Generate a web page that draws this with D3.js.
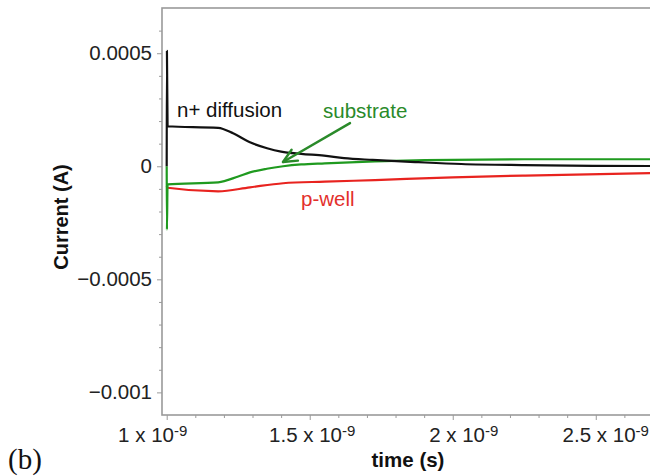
<!DOCTYPE html>
<html>
<head>
<meta charset="utf-8">
<script src="https://cdn.jsdelivr.net/npm/d3@7"></script>
<style>
  html, body { margin: 0; padding: 0; background: #fff; overflow: hidden; }
  svg { display: block; }
</style>
</head>
<body>
<svg id="chart" width="650" height="476"></svg>
<script>
// Transient currents after the strike; time in ns, current in A.
const nDiffusionTime    = [1.000, 1.0008, 1.003, 1.18, 1.232, 1.291, 1.351, 1.40, 1.47, 1.55, 1.62, 1.72, 1.88, 2.03, 2.25, 2.49, 2.72];
const nDiffusionCurrent = [0, 0.00051, 0.000177, 0.00017, 0.000146, 0.000106, 0.00008, 0.000065, 0.000055, 0.000047, 0.000036, 0.000028, 0.000018, 0.00001, 0.000005, 0.000002, 0.000001];

const substrateTime    = [1.000, 1.0008, 1.003, 1.18, 1.25, 1.291, 1.35, 1.407, 1.47, 1.553, 1.728, 1.903, 2.253, 2.72];
const substrateCurrent = [0, -0.00028, -0.00008, -0.000071, -0.000045, -0.000027, -0.000011, 0.0, 0.000008, 0.000013, 0.000022, 0.000027, 0.000031, 0.000031];

const pWellTime    = [1.000, 1.003, 1.18, 1.291, 1.407, 1.553, 1.728, 2.0, 2.253, 2.72];
const pWellCurrent = [-0.000088, -0.000095, -0.000111, -0.000093, -0.000075, -0.000068, -0.000061, -0.000049, -0.000041, -0.00003];

// Axis ticks
const xTickValues  = d3.range(10, 28).map(d => d / 10);          // every 0.1 ns
const xLabelValues = [1, 1.5, 2, 2.5];
const xLabelMantissa = ["1", "1.5", "2", "2.5"];
const xLabelExponent = "-9";
const yTickValues  = d3.range(-10, 7).map(d => d / 10000);      // every 0.0001 A
const yLabelValues = [-0.001, -0.0005, 0, 0.0005];
const yLabelTexts  = ["\u22120.001", "\u22120.0005", "0", "0.0005"];

// Curve labels and the arrow, in data coordinates
const curveLabelTexts   = ["n+ diffusion", "substrate", "p-well"];
const curveLabelTime    = [1.036, 1.5464, 1.4695];
const curveLabelCurrent = [0.000218, 0.0002135, -0.000176];
const arrowFrom = [1.6408, 0.000191];
const arrowTo   = [1.4066, 0.0000189];

// ---- drawing ----
const svg = d3.select("#chart");
const axisColor = "#9a9a9a";
const font = "'Liberation Sans', Arial, Helvetica, sans-serif";

const x = d3.scaleLinear().domain([0.98357, 2.72]).range([162, 658.7]);
const y = d3.scaleLinear().domain([-0.0011, 0.0007]).range([415, 8]);

svg.append("rect").attr("width", 650).attr("height", 476).attr("fill", "#fff");

// frame
svg.append("rect")
  .attr("x", x.range()[0]).attr("y", y.range()[1])
  .attr("width", x.range()[1] - x.range()[0])
  .attr("height", y.range()[0] - y.range()[1])
  .attr("fill", "none").attr("stroke", axisColor).attr("stroke-width", 1.6);

// y axis
const isYLabel = v => yLabelValues.some(l => Math.abs(l - v) < 1e-9);
const yAxis = d3.axisLeft(y)
  .tickValues(yTickValues)
  .tickSize(3).tickSizeOuter(0).tickPadding(7)
  .tickFormat(v => {
    const i = yLabelValues.findIndex(l => Math.abs(l - v) < 1e-9);
    return i >= 0 ? yLabelTexts[i] : "";
  });
const gy = svg.append("g").attr("transform", `translate(${x.range()[0]},0)`).call(yAxis);
gy.select(".domain").remove();
gy.selectAll(".tick line").attr("stroke", axisColor).attr("stroke-width", 1)
  .attr("x2", d => isYLabel(d) ? -5 : -3);
gy.selectAll(".tick text")
  .attr("font-family", font).attr("font-size", 20.5).attr("fill", "#222");

// x axis
const isXLabel = v => xLabelValues.some(l => Math.abs(l - v) < 1e-9);
const xAxis = d3.axisBottom(x)
  .tickValues(xTickValues)
  .tickSize(3).tickSizeOuter(0)
  .tickFormat("");
const gx = svg.append("g").attr("transform", `translate(0,${y.range()[0]})`).call(xAxis);
gx.select(".domain").remove();
gx.selectAll(".tick line").attr("stroke", axisColor).attr("stroke-width", 1)
  .attr("y2", d => isXLabel(d) ? 5 : 3);

// scientific tick labels: mantissa x 10 with a raised exponent
const labelNudge = { "1": -14, "1.5": 2.5, "2": 11, "2.5": 10 };
const gxl = svg.append("g").attr("font-family", font).attr("fill", "#222");
xLabelValues.forEach((v, i) => {
  const t = gxl.append("text")
    .attr("x", x(v) + labelNudge[xLabelMantissa[i]])
    .attr("y", 442)
    .attr("text-anchor", "middle")
    .attr("font-size", 20.5);
  t.append("tspan").text(xLabelMantissa[i] + " x 10");
  t.append("tspan").attr("font-size", 15).attr("dy", -6.5).text(xLabelExponent);
});

// axis titles
svg.append("text")
  .attr("x", 408).attr("y", 467)
  .attr("text-anchor", "middle")
  .attr("font-family", font).attr("font-weight", "bold").attr("font-size", 20.5)
  .attr("fill", "#111")
  .text("time (s)");

svg.append("text")
  .attr("transform", "translate(68,217) rotate(-90)")
  .attr("text-anchor", "middle")
  .attr("font-family", font).attr("font-weight", "bold").attr("font-size", 20)
  .attr("fill", "#111")
  .text("Current (A)");

// panel tag
svg.append("text")
  .attr("x", 8).attr("y", 469)
  .attr("font-family", "'Liberation Serif', 'Times New Roman', serif")
  .attr("font-size", 29).attr("fill", "#111")
  .text("(b)");

// curves
const line = d3.line().x(d => x(d[0])).y(d => y(d[1])).curve(d3.curveMonotoneX);
const series = [
  { t: pWellTime, c: pWellCurrent, color: "#e8231f" },
  { t: substrateTime, c: substrateCurrent, color: "#1f9a1f" },
  { t: nDiffusionTime, c: nDiffusionCurrent, color: "#111" }
];
series.forEach(s => {
  svg.append("path")
    .datum(s.t.map((t, i) => [t, s.c[i]]))
    .attr("d", line)
    .attr("fill", "none")
    .attr("stroke", s.color)
    .attr("stroke-width", 2.2)
    .attr("stroke-linejoin", "round");
});

// curve labels
const labelColors = ["#111", "#2a8a2a", "#e3302c"];
curveLabelTexts.forEach((txt, i) => {
  svg.append("text")
    .attr("x", x(curveLabelTime[i]))
    .attr("y", y(curveLabelCurrent[i]))
    .attr("font-family", font).attr("font-size", 20.5)
    .attr("fill", labelColors[i])
    .text(txt);
});

// arrow pointing at the substrate curve
const ax0 = x(arrowFrom[0]), ay0 = y(arrowFrom[1]);
const ax1 = x(arrowTo[0]), ay1 = y(arrowTo[1]);
const ang = Math.atan2(ay0 - ay1, ax0 - ax1);
const barb = 15, spread = 25 * Math.PI / 180;
const arrow = svg.append("g").attr("stroke", "#2a8a2a").attr("stroke-width", 2.4)
  .attr("fill", "none").attr("stroke-linecap", "round").attr("stroke-linejoin", "round");
arrow.append("line").attr("x1", ax0).attr("y1", ay0).attr("x2", ax1).attr("y2", ay1);
arrow.append("path").attr("d",
  `M${ax1 + barb * Math.cos(ang - spread)},${ay1 + barb * Math.sin(ang - spread)}` +
  `L${ax1},${ay1}` +
  `L${ax1 + barb * Math.cos(ang + spread)},${ay1 + barb * Math.sin(ang + spread)}`);
</script>
</body>
</html>
